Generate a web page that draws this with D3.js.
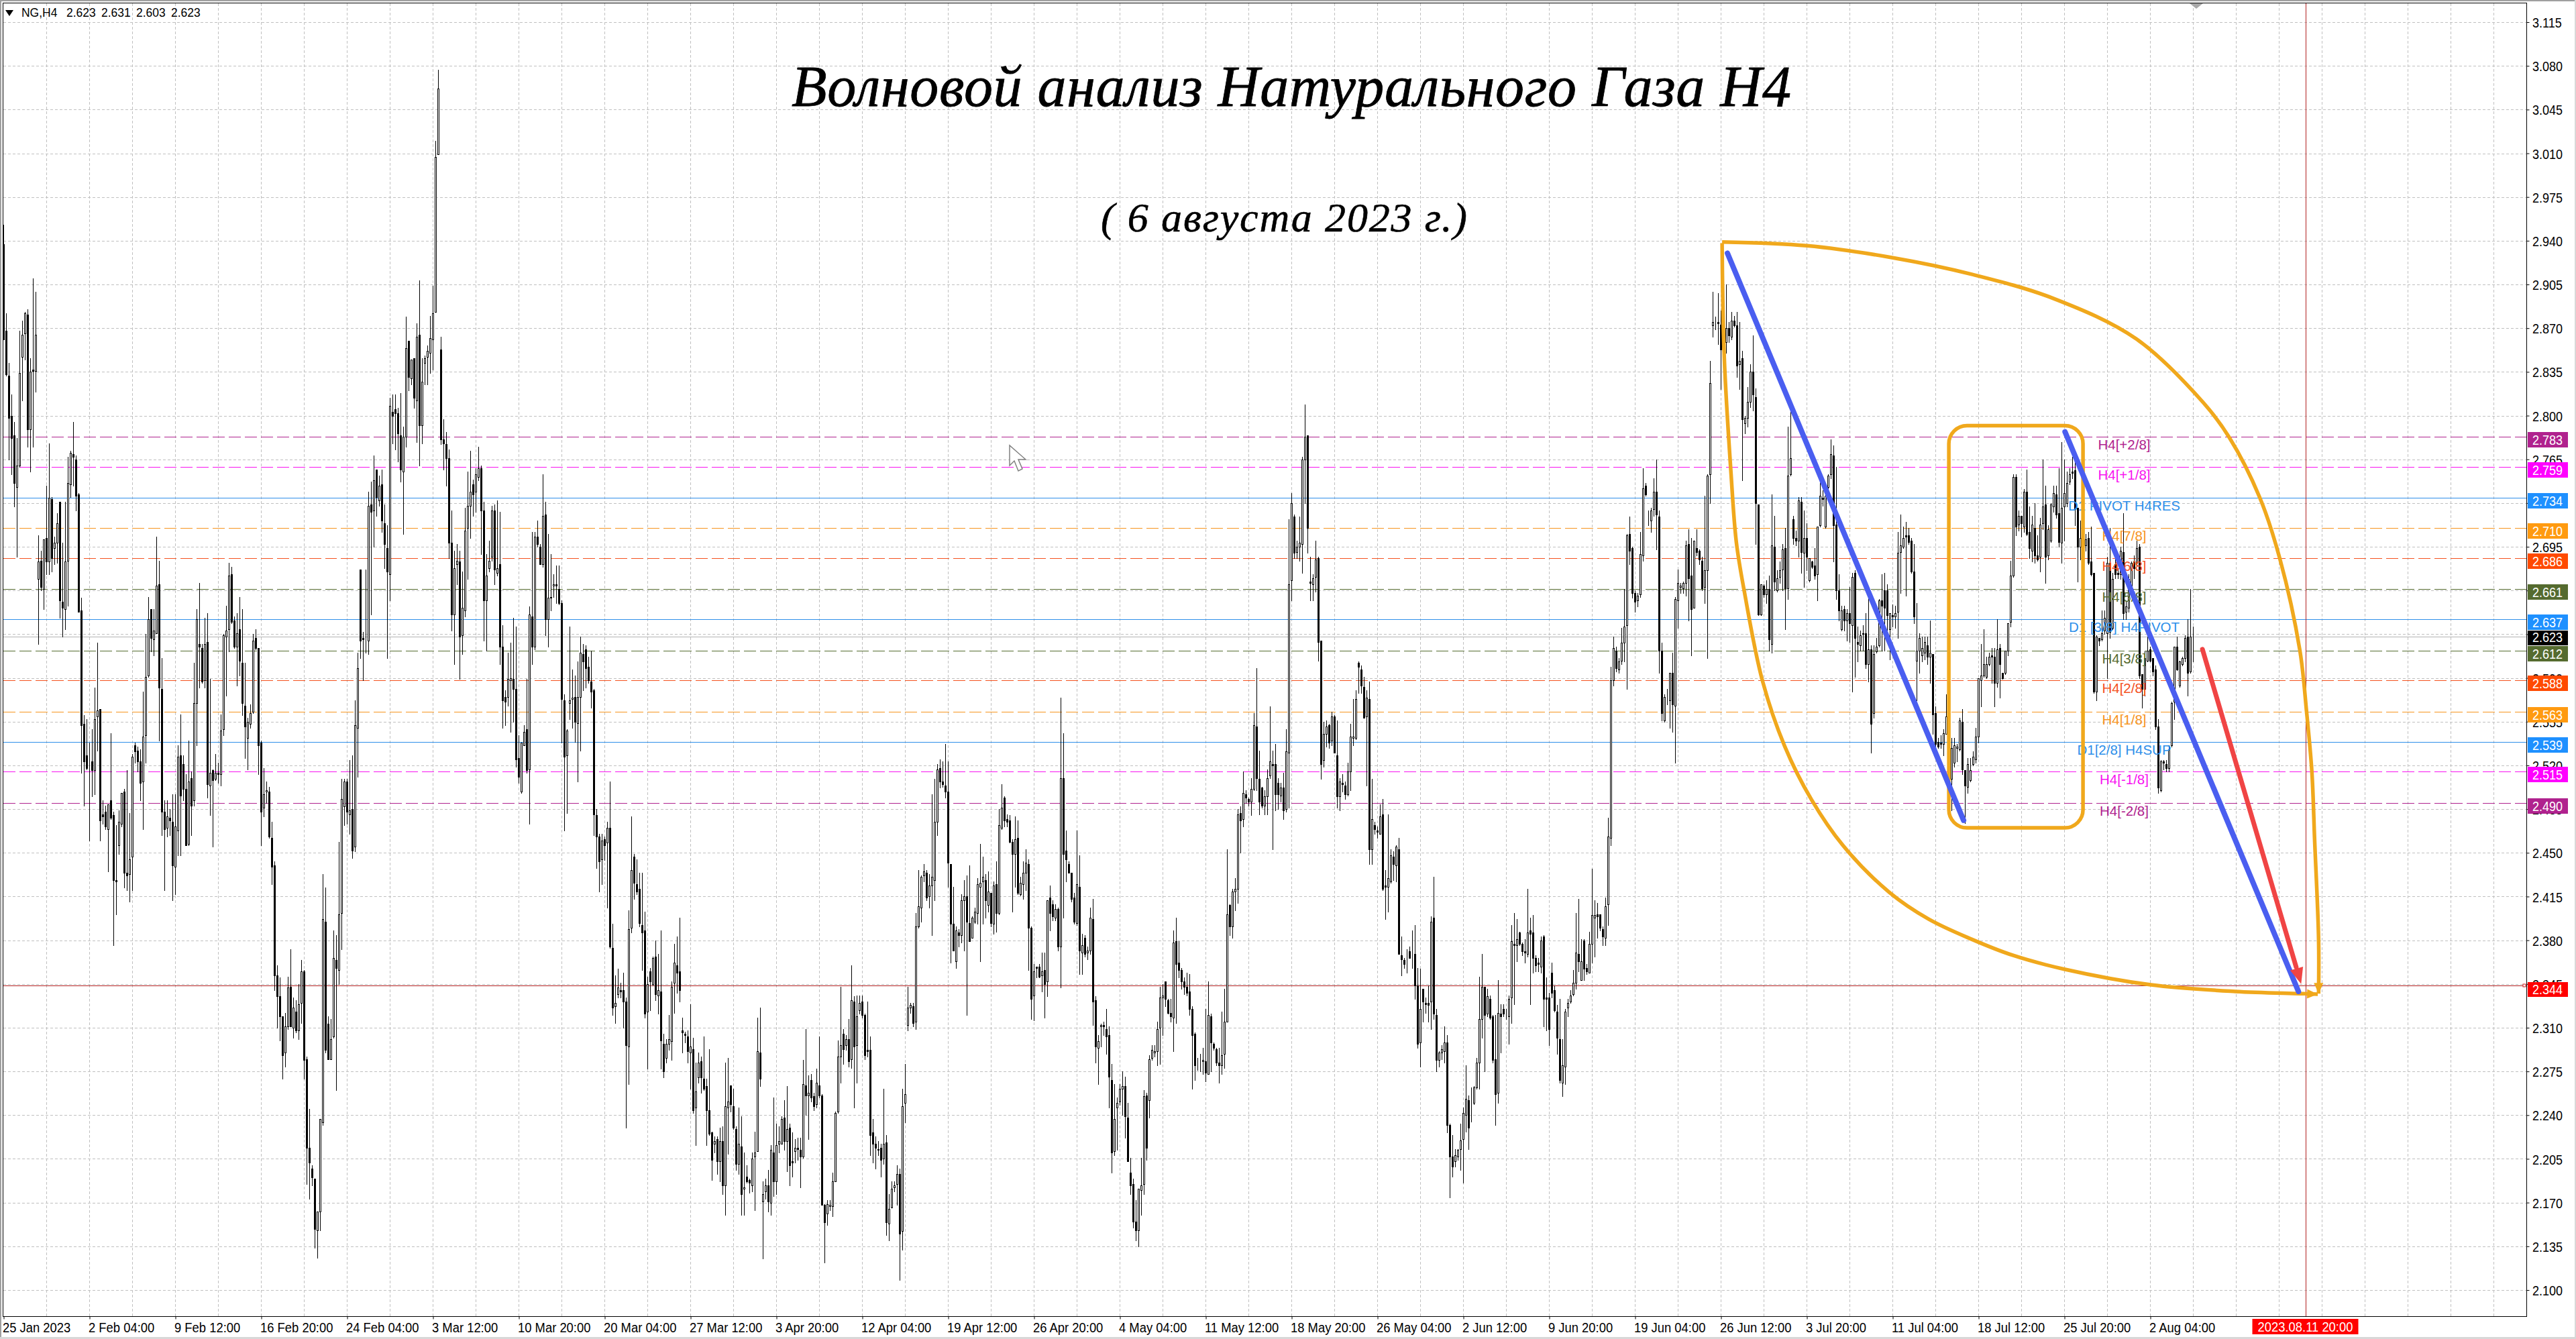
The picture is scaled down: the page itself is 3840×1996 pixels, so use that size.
<!DOCTYPE html>
<html><head><meta charset="utf-8">
<style>html,body{margin:0;padding:0;background:#fff}svg{display:block}</style>
<script src="https://cdn.jsdelivr.net/npm/d3@7/dist/d3.min.js"></script>
</head><body><svg id="c" width="3840" height="1996"></svg>
<script>
// Candles are flat runs of open,high,low,close in thousandths above priceBase.
const priceBase = 2;
const barsJan = [937,953,861,861,868,882,832,833,832,842,765,798,800,817,753,782,784,795,727,746,743,782,687,760,760,868,759,834,847,876,812,865,866,883,845,882,881,885,775,789,789,846,755,835,837,910,775,836,836,899,819,865,669,704,617,683,684,692,660,663,661,701,645,701,702,744,673,683,683,778,673,734,733,735,675,686,694,703,681,698,698,722,682,714,731,731,638,652,651,698,623,646,645,731,629,683,684,767,648,746,745,772,735,770,769,795,744,767,765,768,724,736,737,738,643,643,644,654,514,552,553,560,488,523,528,557,517,518,521,538,460,521,523,549,495,516,516,582,497,557,559,618,532,564,565,565,460,476,481,492,473,479,483,488,469,471,469,489,435,489,492,546,477,478,480,483,376,428,428,472,401,427,456,484,449,475,473,498,471,498,499,501,422,434,434,516,420,432,433,482,411,445,447,529,420,527,536,538,522,531,532,535,515,523,523,533,492,506,507,579,469,543,544,625,522,591,592,655,591,637,645,645,611,622,621,645,608,628,626,703,626,664,665,684,540,582,581,606,464,483,483,492,420,469,470,492,463,479,478,485,464,476,475,497,412,440,439,497,417,471,468,536,448,527,528,561,448,496,521,528,492,501,501,513,456,456,457,540,456,507,510,515,464,488,492,602,488,570,570,645,536,637,617,666,582,615,614,617,586,587,588,638,582,617,619,642,494,505,504,589,480,514,516,517,455,508,509,529,508,514,514,522,506,513,513,561,504,548,549,625,544,624,623,648,576,628,629,682,611,672,673,679,634,635,636,639,614,615,615,642,584,626,629,655,592,604,602,645,560,570,568,602,526,551,542,558,517,555,553,569,550,562,563,625,562,620,622,629,613,614,614,614,513,536,538,540,456,483,486,518,479,497,499,507,490,500,499,503,462,463,462,475,425,439,440,443,340,352,352,360,310,335,335,350,300,319];
const barsFeb = [319,319,269,288,290,322,279,311,311,351,309,342,343,373,311,311,310,334,302,326,323,332,306,308,308,345,301,329,330,364,314,355,355,356,269,284,285,287,185,214,214,245,173,202,197,200,184,190,189,189,134,149,148,163,126,163,163,237,148,237,234,433,232,397,395,422,290,292,313,319,285,285,285,317,285,301,303,388,302,366,364,384,260,358,356,459,345,401,402,509,373,493,487,509,472,507,507,509,473,483,481,524,465,484,485,528,446,452,455,572,451,552,550,610,511,598,677,677,606,620,622,627,588,621,620,677,610,620,620,739,609,728,729,747,641,723,724,768,695,748,757,757,720,735,732,752,728,744,745,757,707,716,714,729,678,697,694,712,606,675,673,814,652,808,803,817,778,800,805,817,773,802,802,806,763,786,784,818,747,757,755,791,705,783,783,879,775,854,860,860,820,831,830,845,825,845,846,846,806,814,812,874,779,863,865,908,760,792,792,846,778,827,842,848,825,846,847,856,825,852,850,880,834,862,861,904,837,882,883,1020,883,1007,1009,1077,1009,1062,853,863,777,781,781,797,757,778,777,787,744,766,766,773,686,698,698,724,628,641,641,692,601,678,681,697,665,684,683,692,589,623,624,675,609,646,644,726,639,708,710,755,669,728,728,772,702,739,745,749,720,737,739,758,723,753,751,775,748,758,758,760,689,724,724,731,620,652,652,689,612,672,678,700,675,684,687,728,684,724,724,729,665,677,674,732,672,678,681,723,601,615,615,632,550,572,575,580,552,571,575,610,568,589,588,618,547,590,589,638,555,581,581,631,519,525,526,544,506,511,499,538,498,538,536,552,536,547,549,589,514,516,517,647,473,641,639,707,601,615,615,707,613,703,703,716,695,697,695,697,681,681,681,753,679,720,721,731,624,637,637,705,615,654,654,689,644,655,664,673,655,665,665,680,650,664,661,680,649,650,650,652,538,573];
const barsMar = [572,577,468,527,528,549,482,548,570,631,557,572,573,597,550,574,575,592,539,555,554,603,507,575,575,623,532,610,609,617,580,603,613,616,582,598,599,607,586,588,587,612,566,579,580,581,464,481,480,485,438,463,463,465,419,443,445,465,425,460,461,463,444,456,458,475,406,470,470,507,374,375,374,393,320,326,327,352,314,330,337,357,334,342,340,346,334,339,340,354,310,331,331,334,230,296,295,404,265,389,390,479,386,436,447,449,413,426,425,445,417,419,421,434,391,394,392,434,356,386,388,403,318,321,323,351,277,345,355,358,324,347,345,367,344,366,367,380,332,337,336,369,321,340,339,388,277,300,297,305,270,275,286,301,282,297,297,320,292,301,299,347,284,343,346,377,322,362,360,383,338,354,355,398,331,340,308,318,290,306,305,307,298,304,303,308,282,291,290,329,261,295,293,302,242,244,246,282,216,259,270,290,266,282,283,287,258,270,269,303,260,261,263,269,216,244,244,293,224,225,226,227,188,204,217,223,210,219,221,223,193,203,203,230,187,219,219,231,177,184,184,282,160,247,246,286,209,251,264,264,243,249,247,261,229,230,229,231,196,201,201,246,193,217,215,239,160,177,181,210,160,182,191,200,186,187,188,189,178,186,184,210,179,205,207,227,164,210,211,318,211,291,290,326,263,269,171,187,125,177,179,189,173,184,184,196,163,171,170,216,160,212,210,254,175,187,187,233,177,216,217,231,210,219,217,239,217,237,238,252,212,219,219,263,195,229,230,233,184,200,203,226,191,202,211,221,202,214,214,222,204,213,212,222,182,207,207,284,206,265,264,309,240,256,256,272,221,258,268,273,251,254,255,258,244,247,249,277,246,266,264,303,254,256,256,257,168,168,168,169,122,154,161,172,152,169,167,172,164,168,167,194,159,187,187,243,187,242,243,300,242,287,287,343,266,296,305,309,281,293];
const barsApr = [296,304,292,301,301,317,279,283,285,360,278,332,331,335,246,295,296,336,266,319,324,336,321,330,331,336,318,320,320,321,285,288,292,331,287,291,292,303,208,224,226,237,202,217,217,223,197,214,213,219,208,212,214,217,191,204,205,261,201,217,218,224,144,154,153,177,140,165,166,187,166,181,182,187,179,184,185,200,168,193,193,197,108,145,147,261,132,247,250,281,234,257,312,343,308,326,326,330,322,328,327,330,311,314,315,402,309,391,391,436,390,407,406,432,395,431,432,441,427,435,434,436,412,414,415,433,406,424,424,497,384,431,428,509,412,475,475,521,464,517,518,525,502,507,507,523,503,505,504,537,494,499,499,523,423,442,441,441,362,393,393,423,372,372,363,391,358,388,386,389,375,384,384,417,378,412,412,428,372,415,415,432,320,395,394,440,379,379,382,399,382,398,395,406,394,403,402,430,393,425,423,457,363,426,427,447,393,431,428,433,398,412,408,435,403,419,418,418,391,394,393,427,385,424,425,443,387,402,402,485,401,472,470,505,469,486,494,495,471,476,477,481,471,475,476,480,458,459,459,461,403,449,449,479,423,461,462,476,417,418,417,431,416,426,425,443,413,434,434,453,420,442,441,445,356,390,390,391,317,333,336,361,316,355,359,359,350,358,359,361,350,351,352,370,339,355,356,370,318,345,347,412,335,412,414,424,388,402,409,412,396,399,398,409,396,405,405,406,372,375,375,574,342,510,510,546,398,449,452,468,427,445,441,443,434,434,434,434,411,413,414,418,393,395,394,468,392,425,423,448,353,372,370,385,353,376,382,384,367,369,370,375,365,372,372,406,369,398,397,413,312,331,332,335,282,295,294,304,265,299,311,313,295,312,312,315,304,311,309,325,289,303,304,311,246,271,268,281,194,210,211,265,208,237,246,254,212,250,251,265,248,261,261,275,240,263,263,271,222,239];
const barsMay = [238,250,203,203,194,206,177,184,185,189,150,155,155,172,140,148,148,181,135,181,180,206,160,184,185,260,177,255,256,258,204,214,252,288,238,285,286,296,284,292,290,296,287,291,291,315,280,309,310,343,281,334,334,345,304,336,347,347,327,333,332,333,321,322,322,333,315,319,318,388,291,378,379,398,314,361,362,379,350,356,356,358,341,347,347,350,337,343,343,354,336,338,339,353,320,325,325,327,261,304,305,306,268,280,282,286,276,282,282,289,275,282,283,294,273,284,283,325,267,274,273,347,273,320,319,321,275,298,297,298,292,294,293,294,280,282,282,294,266,280,280,323,273,288,289,341,278,315,315,453,315,401,408,409,384,391,391,421,382,419,419,430,404,421,421,485,410,481,482,487,450,476,477,515,471,498,497,500,490,494,493,494,488,491,491,510,480,501,501,562,500,552,551,598,500,510,509,532,481,491,502,503,486,488,488,500,481,495,495,517,481,510,512,567,510,523,521,532,453,520,521,537,484,497,506,510,485,497,496,506,491,502,502,514,477,484,485,549,483,531,530,717,486,665,668,738,652,730,719,721,686,690,691,700,686,695,695,719,684,698,697,767,674,765,765,809,730,783,784,784,690,710,667,687,652,666,665,673,652,670,671,700,659,685,686,687,604,619,620,620,509,521,524,555,519,545,545,556,535,551,552,553,534,538,540,563,536,559,559,560,530,530,528,556,486,495,495,510,484,507,506,513,499,505,504,507,493,497,497,522,496,515,515,553,500,543,542,573,536,543,542,580,541,573,602,603,578,599,597,600,578,584,583,591,558,558,559,580,504,574,573,587,441,453,453,509,441,477,472,475,465,469,468,471,462,467,465,489,465,479,481,493,420,421,424,436,397,423,423,481,403,430,427,453,426,448,447,451,428,441,440,456,427,455,453,462,369,369,368,383,352,365,364,366,358,361,370,373,354,370];
const barsJun = [371,375,366,366,368,388,358,368,369,392,333,344,344,358,294,297,298,357,279,325,341,341,315,331,330,334,322,329,330,344,315,328,331,399,309,395,398,431,317,321,320,325,275,284,284,291,279,290,290,296,285,293,291,311,282,298,298,304,226,232,232,233,174,207,207,224,191,199,203,213,199,208,207,213,204,212,213,233,196,220,221,246,186,242,240,280,227,253,252,256,213,230,250,262,235,250,250,263,249,262,262,286,261,282,282,351,261,317,317,369,302,343,343,343,275,320,321,341,319,335,333,336,317,318,319,320,282,284,285,320,232,257,258,348,250,322,321,329,290,319,325,329,319,321,320,325,317,320,319,336,297,333,334,392,314,379,377,402,329,376,376,397,363,381,386,387,376,377,377,378,368,371,371,381,362,370,369,421,367,386,388,398,329,385,386,400,354,366,366,368,355,360,362,366,355,361,359,383,354,380,383,384,311,333,334,350,308,333,334,338,296,309,354,362,334,338,340,344,323,324,323,328,289,302,301,333,266,268,266,301,255,280,279,325,265,323,326,333,319,330,331,340,330,336,337,356,336,346,346,402,341,370,369,413,355,363,348,381,348,363,380,381,348,357,358,361,353,355,354,387,354,377,377,437,362,400,398,412,367,400,401,410,382,399,401,401,388,390,389,391,376,383,382,414,376,407,409,478,392,463,462,599,456,588,588,623,584,614,612,615,595,598,597,606,594,603,604,630,601,618,618,661,603,631,632,705,581,704,705,719,681,692,694,695,654,658,658,660,643,651,652,658,647,656,657,707,655,689,688,758,684,742,744,746,736,737,715,724,712,715,716,726,707,724,725,750,720,739,739,765,693,721,719,724,594,612,612,618,556,562,556,577,555,575,574,581,569,574,572,594,550,594,594,610,547,569,568,655,522,653,652,677,630,666,663,666,658,664,662,667,658,666,666,700,656,696,697,709,636,670];
const barsJul = [672,702,608,645,646,700,646,700,694,709,688,691,692,693,681,685,684,687,660,662,663,736,650,676,676,753,606,752,753,844,730,826,872,899,863,875,875,879,869,875,875,898,857,874,873,884,821,853,855,927,850,872,859,905,850,870,870,875,859,864,863,883,861,876,876,880,871,872,872,883,831,840,841,875,821,844,846,852,748,797,794,800,786,798,798,823,791,811,811,841,807,835,835,864,804,817,815,822,697,730,729,729,640,641,641,665,640,665,664,665,655,657,657,668,650,661,661,672,612,621,617,737,610,696,695,720,660,667,660,676,659,670,671,683,666,676,677,697,660,693,694,710,629,662,662,791,653,752,753,805,752,766,717,720,697,702,702,708,696,700,700,735,687,732,731,735,674,691,690,724,663,702,702,714,676,687,668,686,667,686,683,684,678,679,680,694,669,672,673,711,652,711,712,748,711,736,734,740,728,733,711,742,710,736,743,753,733,752,753,781,750,769,768,776,683,712,713,759,653,660,660,673,636,644,629,648,628,644,645,648,628,636,636,645,620,642,642,663,619,634,632,674,579,671,674,676,591,622,619,631,603,617,616,628,612,624,625,632,612,626,626,642,598,601,601,656,587,613,613,616,530,553,562,616,558,609,611,622,610,615,616,653,615,652,652,673,612,648,660,674,612,646,660,665,620,640,629,642,605,642,640,649,631,639,639,648,630,642,643,707,622,690,691,721,658,696,695,711,694,702,704,715,656,703,704,710,697,699,700,702,674,675,675,697,634,639,604,650,572,612,612,626,594,622,608,623,603,614,610,623,605,619,616,623,601,607,607,636,586,610,609,609,545,561,562,567,532,537,539,542,534,535,538,544,534,537,537,549,528,546,545,577,545,559,559,565,520,528,509,542,484,534,522,542,519,536,534,537,523,535,533,558,532,556,555,565,513,517,516,516,474,504,503,526,498,521,508,526,507,516];
const barsAug = [521,531,520,527,525,550,522,543,543,590,538,590,588,617,567,592,592,629,591,601,591,607,590,601,601,610,600,607,608,614,586,607,607,614,567,586,586,637,583,613,614,617,574,601,594,594,589,590,594,612,593,612,612,634,608,634,635,684,631,672,672,753,671,751,751,753,704,711,713,724,708,720,720,720,703,714,711,741,707,739,739,757,704,705,707,727,686,694,692,720,683,713,710,730,682,688,688,704,684,685,687,718,675,713,714,765,709,727,729,744,666,687,688,712,685,709,700,730,699,729,727,744,723,738,737,744,718,721,722,758,695,699,698,779,682,726,727,765,700,738,730,755,727,746,747,758,745,753,755,767,750,754,756,767,712,725,726,726,667,695,695,716,685,702,702,710,680,688,696,705,692,701,702,707,681,682,683,711,672,673,674,674,578,579,579,624,572,623,622,622,616,620,621,644,620,626,628,644,625,638,626,687,590,682,682,710,622,627,630,674,629,669,681,694,670,673,674,678,670,673,673,695,669,692,691,722,637,642,643,651,637,647,646,673,643,669,659,683,655,682,683,688,670,678,682,700,680,694,695,697,590,592,593,593,566,581,581,611,576,606,604,623,603,612,613,615,603,604,606,606,592,595,597,600,549,551,551,557,498,502,500,524,499,523,523,524,517,522,521,524,515,518,518,536,515,533,536,571,535,570,571,615,557,615,615,623,596,597,584,604,583,603,601,607,600,606,606,624,603,622,623,637,576,594,595,661,594,623,623,631,603,623];

const dateLabels = ["25 Jan 2023","2 Feb 04:00","9 Feb 12:00","16 Feb 20:00","24 Feb 04:00","3 Mar 12:00","10 Mar 20:00","20 Mar 04:00","27 Mar 12:00","3 Apr 20:00","12 Apr 04:00","19 Apr 12:00","26 Apr 20:00","4 May 04:00","11 May 12:00","18 May 20:00","26 May 04:00","2 Jun 12:00","9 Jun 20:00","19 Jun 04:00","26 Jun 12:00","3 Jul 20:00","11 Jul 04:00","18 Jul 12:00","25 Jul 20:00","2 Aug 04:00"];
const priceTicks = [3.115,3.08,3.045,3.01,2.975,2.94,2.905,2.87,2.835,2.8,2.765,2.73,2.695,2.66,2.625,2.59,2.555,2.52,2.485,2.45,2.415,2.38,2.345,2.31,2.275,2.24,2.205,2.17,2.135,2.1];
const levelPrices = [2.783,2.759,2.734,2.710,2.686,2.661,2.637,2.612,2.588,2.563,2.539,2.515,2.490];
const levelNames = ["H4[+2/8]","H4[+1/8]","D1 PIVOT H4RES","H4[7/8]","H4[6/8]","H4[5/8]","D1 [3/8] H4PIVOT","H4[3/8]","H4[2/8]","H4[1/8]","D1[2/8] H4SUP","H4[-1/8]","H4[-2/8]"];
const levelColors = ["#b0228e","#f812f0","#2e8fea","#f7941e","#f4511e","#556b2f","#2e8fea","#556b2f","#f4511e","#f7941e","#2e8fea","#f812f0","#b0228e"];
const flagColors = ["#b0228e","#ff00ff","#1e90ff","#ff9a10","#ff4a00","#556b2f","#1e90ff","#556b2f","#ff4a00","#ff9a10","#1e90ff","#ff00ff","#b0228e"];
const levelSolid = [0,0,1,0,0,0,1,0,0,0,1,0,0];
const header = ["NG,H4","2.623","2.631","2.603","2.623"];
const targetPrice = 2.344, bidPrice = 2.623, targetBar = 858.0, targetDate = "2023.08.11 20:00";
// Drawn annotations as [bar, price]
const curveUpper = [[640.4,2.939],[672,2.936],[703.7,2.9265],[733.7,2.913],[764,2.8937],[794.7,2.8615],[819.7,2.8105],[829.4,2.7826],[840.7,2.7348],[848.2,2.6859],[855.7,2.6123],[858.2,2.5634],[860.2,2.5146],[861.2,2.4614],[862.7,2.3808],[862.7,2.3373]];
const curveLower = [[640.4,2.938],[641.2,2.847],[643.7,2.7546],[645.7,2.6988],[648.7,2.659],[655.4,2.5881],[663.7,2.5355],[673.7,2.4926],[685.4,2.456],[702.7,2.4184],[717.4,2.3969],[733.4,2.3808],[748.7,2.368],[768.2,2.3567],[800.2,2.3443],[831.7,2.339],[855.7,2.3373],[862.4,2.3368]];
const blueA = [[642.4,2.930],[730.4,2.476]], blueB = [[768.2,2.787],[855.2,2.339]], redArrow = [[819.4,2.613],[856.2,2.345]];
const boxBars = [724.9,774.9], boxPrices = [2.792,2.470];

const O=[],H=[],L=[],C=[];
[barsJan,barsFeb,barsMar,barsApr,barsMay,barsJun,barsJul,barsAug].forEach(a=>{
  for(let i=0;i+3<a.length;i+=4){O.push(priceBase+a[i]/1000);H.push(priceBase+a[i+1]/1000);L.push(priceBase+a[i+2]/1000);C.push(priceBase+a[i+3]/1000);}
});
const W=3840,Hh=1996,left=4.5,top_=4.5,right=3766.5,bottom=1962.5;
const x=d3.scaleLinear().domain([0,1000]).range([5.5,4005.5]);
const y=d3.scaleLinear().domain([3.115,2.1]).range([33,1923]);
const svg=d3.select("#c");
const sans="'Liberation Sans',Arial,sans-serif";
// Squeeze text horizontally so the wide sans matches the narrow platform face.
function squeeze(sel,f){sel.each(function(){const n=this.getComputedTextLength();this.setAttribute("textLength",n*f);this.setAttribute("lengthAdjust","spacingAndGlyphs");});}
svg.append("rect").attr("width",W).attr("height",Hh).attr("fill","#fff");
// grid
const gv=d3.range(69.5,right,64), gridG=svg.append("g").attr("shape-rendering","crispEdges").attr("stroke","#c0c0c0").attr("stroke-dasharray","4 3");
gridG.selectAll(".v").data(gv).join("line").attr("x1",d=>d).attr("x2",d=>d).attr("y1",top_).attr("y2",bottom);
gridG.selectAll(".h").data(priceTicks).join("line").attr("x1",left).attr("x2",right).attr("y1",d=>Math.round(y(d))+.5).attr("y2",d=>Math.round(y(d))+.5);
// levels
const lv=svg.append("g").attr("shape-rendering","crispEdges");
lv.selectAll("line").data(levelPrices).join("line").attr("x1",left).attr("x2",right)
 .attr("y1",d=>Math.round(y(d))+.5).attr("y2",d=>Math.round(y(d))+.5)
 .attr("stroke",(d,i)=>levelColors[i]).attr("stroke-dasharray",(d,i)=>levelSolid[i]?null:"18 6");
lv.append("line").attr("x1",left).attr("x2",right).attr("y1",Math.round(y(bidPrice))+.5).attr("y2",Math.round(y(bidPrice))+.5).attr("stroke","#b4b4b4");
lv.append("line").attr("x1",left).attr("x2",right).attr("y1",Math.round(y(targetPrice))+.5).attr("y2",Math.round(y(targetPrice))+.5).attr("stroke","#b22222");
lv.append("line").attr("x1",x(targetBar)).attr("x2",x(targetBar)).attr("y1",top_).attr("y2",bottom).attr("stroke","#b22222");
// candles
const cg=svg.append("g").attr("shape-rendering","crispEdges");
const idx=d3.range(O.length);
cg.selectAll(".w").data(idx).join("line").attr("x1",i=>x(i)).attr("x2",i=>x(i))
 .attr("y1",i=>Math.round(y(H[i]))).attr("y2",i=>Math.round(y(L[i]))+1).attr("stroke","#000");
cg.selectAll(".b").data(idx).join("rect")
 .attr("x",i=>x(i)-1).attr("width",2)
 .attr("y",i=>Math.round(y(Math.max(O[i],C[i])))+.5)
 .attr("height",i=>Math.max(0,Math.round(y(Math.min(O[i],C[i])))-Math.round(y(Math.max(O[i],C[i])))))
 .attr("fill",i=>C[i]>O[i]?"#fff":"#000").attr("stroke","#000");
// level captions
svg.append("g").selectAll("text").data(levelPrices).join("text").attr("x",3166.5).attr("y",d=>y(d)+19)
 .attr("text-anchor","middle").attr("font-family",sans).attr("font-size",20.5).attr("fill",(d,i)=>levelColors[i]).text((d,i)=>levelNames[i]);
// annotations
const line=d3.line().x(d=>x(d[0])).y(d=>y(d[1]));
const orange="#f0a81c",blue="#4a5ef0",red="#f04444";
svg.append("path").attr("d",line.curve(d3.curveCatmullRom)(curveUpper)).attr("fill","none").attr("stroke",orange).attr("stroke-width",5.5);
svg.append("path").attr("d",line.curve(d3.curveCatmullRom)(curveLower)).attr("fill","none").attr("stroke",orange).attr("stroke-width",5.5);
svg.append("rect").attr("x",x(boxBars[0])).attr("width",x(boxBars[1])-x(boxBars[0])).attr("y",y(boxPrices[0])).attr("height",y(boxPrices[1])-y(boxPrices[0])).attr("rx",27).attr("ry",27).attr("fill","none").attr("stroke",orange).attr("stroke-width",5.5);
const straight=d3.line().x(d=>x(d[0])).y(d=>y(d[1]));
[blueA,blueB].forEach(p=>svg.append("path").attr("d",straight(p)).attr("stroke",blue).attr("stroke-width",8).attr("stroke-linecap","round").attr("fill","none"));
function head(p0,p1,len,hw,col){
  const a=Math.atan2(y(p1[1])-y(p0[1]),x(p1[0])-x(p0[0])),tx=x(p1[0]),ty=y(p1[1]);
  const bx=tx-len*Math.cos(a),by=ty-len*Math.sin(a),nx=-Math.sin(a),ny=Math.cos(a);
  svg.append("polygon").attr("points",[[tx,ty],[bx+nx*hw,by+ny*hw],[bx-nx*hw,by-ny*hw]].map(d=>d.join(",")).join(" ")).attr("fill",col);
}
const redStop=[redArrow[0][0]+(redArrow[1][0]-redArrow[0][0])*.95,redArrow[0][1]+(redArrow[1][1]-redArrow[0][1])*.95];
svg.append("path").attr("d",straight([redArrow[0],redStop])).attr("stroke",red).attr("stroke-width",7).attr("stroke-linecap","round").attr("fill","none");
head(redArrow[0],redArrow[1],24,10,red);
head(curveUpper[curveUpper.length-2],curveUpper[curveUpper.length-1],16,7,orange);
head(curveLower[curveLower.length-2],curveLower[curveLower.length-1],16,7,orange);
// frame
svg.append("rect").attr("x",left).attr("y",top_).attr("width",right-left).attr("height",bottom-top_).attr("fill","none").attr("stroke","#000").attr("stroke-width",1.5).attr("shape-rendering","crispEdges");
svg.append("rect").attr("x",0).attr("y",0).attr("width",W).attr("height",2).attr("fill","#a0a0a0");
svg.append("rect").attr("x",0).attr("y",0).attr("width",2).attr("height",Hh).attr("fill","#a0a0a0");
svg.append("rect").attr("x",0).attr("y",1993).attr("width",W).attr("height",3).attr("fill","#d8d8d8");
svg.append("rect").attr("x",3838).attr("y",0).attr("width",2).attr("height",Hh).attr("fill","#d8d8d8");
svg.append("polygon").attr("points","3264,5 3284,5 3274,13").attr("fill","#a8a8a8");
// pointer glyph
svg.append("path").attr("d","M1505,664 L1505,694 L1512,687 L1518,702 L1524,699 L1518,685 L1529,685 Z").attr("fill","#fff").attr("stroke","#808080").attr("stroke-width",1.5);
// axes
const yAxis=d3.axisRight(y).tickValues(priceTicks).tickFormat(d3.format(".3f")).tickSize(4).tickPadding(4);
const ya=svg.append("g").attr("transform",`translate(${right},0)`).call(yAxis);
ya.select(".domain").remove();
ya.selectAll("text").attr("font-family",sans).attr("font-size",20).attr("fill","#000").attr("dy","0.38em").attr("x",8.5).call(squeeze,.9);
const xAxis=d3.axisBottom(x).tickValues(dateLabels.map((d,i)=>i*32)).tickFormat((d,i)=>dateLabels[i]).tickSize(4).tickPadding(3);
const xa=svg.append("g").attr("transform",`translate(0,${bottom})`).call(xAxis);
xa.select(".domain").remove();
xa.selectAll("text").attr("font-family",sans).attr("font-size",20).attr("fill","#000").attr("text-anchor","start").attr("x",-2).attr("dy","0.8em").call(squeeze,.92);
// price flags
const flag=svg.append("g");
function pflag(p,col,t0,t1,tc){
  const yy=Math.round(y(p));
  flag.append("rect").attr("x",3768).attr("y",yy+t0).attr("width",60).attr("height",t1-t0).attr("fill",col);
  flag.append("text").attr("x",3775).attr("y",yy+tc).attr("dy","0.36em").attr("font-family",sans).attr("font-size",20).attr("fill","#fff").text(d3.format(".3f")(p)).call(squeeze,.9);
}
pflag(bidPrice,"#000",-9,13,1);
levelPrices.forEach((p,i)=>pflag(p,flagColors[i],-7,16,5));
pflag(targetPrice,"#ff0000",-5,17,6);
svg.append("rect").attr("x",3761).attr("y",Math.round(y(targetPrice))-2).attr("width",4).attr("height",4).attr("fill","#fff").attr("stroke","#d02020");
// date flag
svg.append("rect").attr("x",x(targetBar)-80).attr("y",1966).attr("width",158).attr("height",23).attr("fill","#ff0000");
svg.append("text").attr("x",x(targetBar)-1).attr("y",1977.5).attr("dy","0.36em").attr("text-anchor","middle").attr("font-family",sans).attr("font-size",20).attr("fill","#fff").text(targetDate).call(squeeze,.92);
// header
svg.append("polygon").attr("points","8,15 20,15 14,24").attr("fill","#000");
const hx=[32,99,151,203,255];
svg.append("g").selectAll("text").data(header).join("text").attr("x",(d,i)=>hx[i]).attr("y",25).attr("font-family",sans).attr("font-size",19).attr("fill","#000").text(d=>d).call(squeeze,.92);
// titles
svg.append("text").attr("x",1180).attr("y",158).attr("textLength",1490).attr("lengthAdjust","spacing").attr("font-family","'Liberation Serif',serif").attr("font-style","italic").attr("font-size",86).attr("fill","#000").attr("stroke","#000").attr("stroke-width",.8).text("Волновой анализ Натурального Газа H4");
svg.append("text").attr("x",1641).attr("y",345).attr("textLength",546).attr("lengthAdjust","spacing").attr("font-family","'Liberation Serif',serif").attr("font-style","italic").attr("font-size",62).attr("fill","#000").attr("stroke","#000").attr("stroke-width",.6).text("( 6 августа 2023 г.)");
</script></body></html>
